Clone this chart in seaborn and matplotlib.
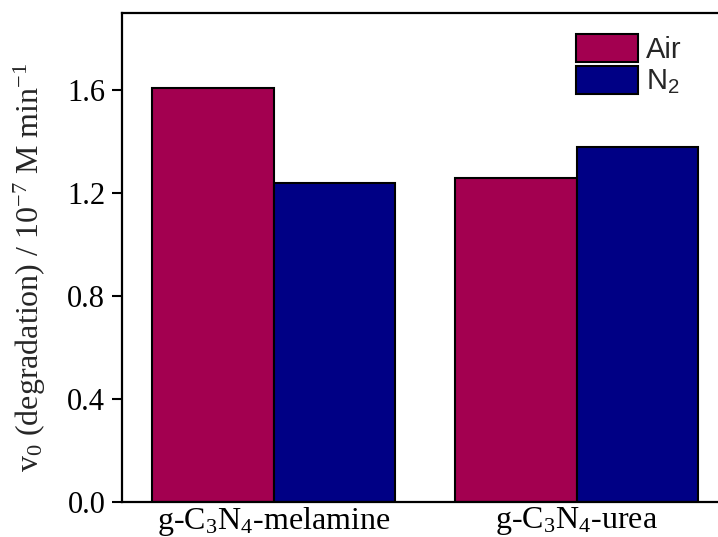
import matplotlib
matplotlib.use("Agg")
import matplotlib.pyplot as plt
import seaborn as sns
import pandas as pd

# Initial degradation rates of the two carbon nitride samples
samples = [r"g-C$_3$N$_4$-melamine", r"g-C$_3$N$_4$-urea"]
atmospheres = ["Air", r"N$_\mathsf{2}$"]
rate_air = [1.61, 1.26]
rate_n2 = [1.24, 1.38]
yticks = [0.0, 0.4, 0.8, 1.2, 1.6]
colors = ["#A30050", "#000085"]

sns.set_theme(style="ticks")
plt.rcParams["font.family"] = ["Liberation Serif", "DejaVu Serif"]
plt.rcParams["mathtext.fontset"] = "custom"
plt.rcParams["mathtext.rm"] = "Liberation Serif"
plt.rcParams["mathtext.it"] = "Liberation Serif:italic"
plt.rcParams["mathtext.bf"] = "Liberation Serif:bold"
plt.rcParams["mathtext.sf"] = "Liberation Sans"

df = pd.DataFrame({
    "sample": samples * 2,
    "atmosphere": [atmospheres[0]] * len(samples) + [atmospheres[1]] * len(samples),
    "rate": rate_air + rate_n2,
})

fig = plt.figure(figsize=(7.18, 5.37), dpi=100)
ax = fig.add_axes([122 / 718, 1 - 502 / 537, 606 / 718, 489 / 537])

sns.barplot(data=df, x="sample", y="rate", hue="atmosphere",
            order=samples, hue_order=atmospheres, palette=colors,
            width=0.8, edgecolor="black", linewidth=1.5, saturation=1,
            errorbar=None, ax=ax)

ax.set_xlim(-0.5, 1.5)
ax.set_ylim(0, 1.9)
ax.set_yticks(yticks)
ax.set_yticklabels([f"{t:.1f}" for t in yticks])
ax.set_xlabel("")
ax.set_ylabel(r"v$_0$ (degradation) / 10$^{-7}$ M min$^{-1}$", fontsize=23)
ax.yaxis.set_label_coords(-0.122, 0.479)

for side in ["left", "bottom", "top"]:
    ax.spines[side].set_linewidth(1.6)
    ax.spines[side].set_color("black")
ax.spines["right"].set_visible(False)

ax.tick_params(axis="y", direction="out", length=7, width=1.5, labelsize=22,
               colors="black", pad=5)
ax.tick_params(axis="x", length=0, labelsize=23, colors="black", pad=2)

leg = ax.legend(loc="upper left", bbox_to_anchor=(0.716, 0.999),
                frameon=False, handlelength=2.1, handleheight=1.1,
                handletextpad=0.3, labelspacing=0.08, borderpad=0.2,
                prop={"family": "Liberation Sans", "size": 21})
for h in leg.legend_handles:
    h.set_edgecolor("black")
    h.set_linewidth(1.5)

fig.savefig("out.png", dpi=100)
